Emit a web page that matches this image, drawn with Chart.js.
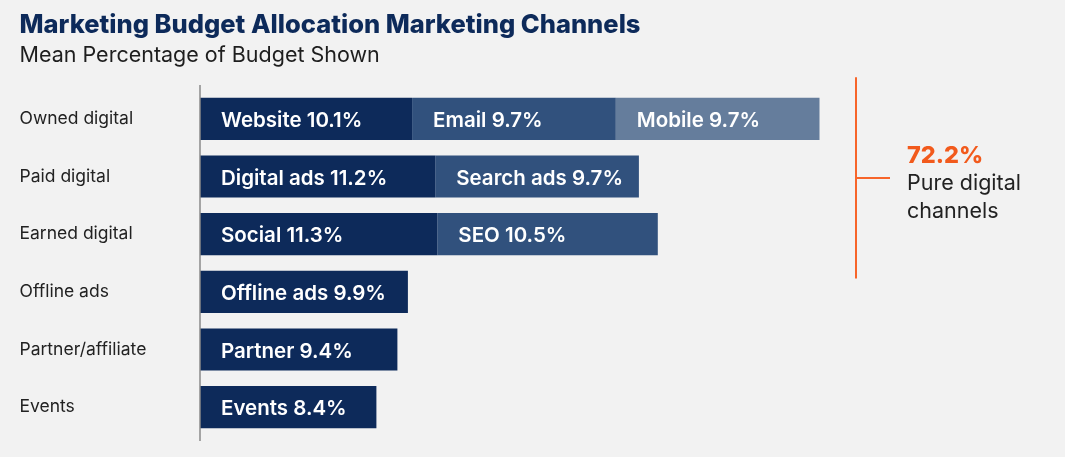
<!DOCTYPE html>
<html>
<head>
<meta charset="utf-8">
<script src="https://cdn.jsdelivr.net/npm/chart.js@4"></script>
<style>
  html, body { margin: 0; padding: 0; background: #f2f2f2; }
  #wrap { width: 1065px; height: 457px; }
</style>
</head>
<body>
<div id="wrap"><canvas id="budgetChart"></canvas></div>
<script>
// channel groups on the y axis
const categories = ['Owned digital', 'Paid digital', 'Earned digital', 'Offline ads', 'Partner/affiliate', 'Events'];

// first, second and third segment of each bar
const firstNames = ['Website', 'Digital ads', 'Social', 'Offline ads', 'Partner', 'Events'];
const firstValues = [10.1, 11.2, 11.3, 9.9, 9.4, 8.4];
const secondNames = ['Email', 'Search ads', 'SEO', null, null, null];
const secondValues = [9.7, 9.7, 10.5, null, null, null];
const thirdNames = ['Mobile', null, null, null, null, null];
const thirdValues = [9.7, null, null, null, null, null];

// rows counted as "pure digital"
const digitalRows = 3;

const navy = '#0d2a5a';   // dark
const steel = '#31517d';  // mid
const slate = '#657d9c';  // light
const orange = '#f7652a';

const segNames = [firstNames, secondNames, thirdNames];

// total of the digital rows -> 72.2
let digitalTotal = 0;
for (let i = 0; i < digitalRows; i++) {
  digitalTotal += (firstValues[i] || 0) + (secondValues[i] || 0) + (thirdValues[i] || 0);
}

const font = 'Inter, "Noto Sans", sans-serif';

// white labels written inside each segment
const segmentLabels = {
  id: 'segmentLabels',
  afterDatasetsDraw(chart) {
    const ctx = chart.ctx;
    ctx.save();
    ctx.fillStyle = '#ffffff';
    ctx.font = '600 20.5px ' + font;
    ctx.textBaseline = 'middle';
    ctx.textAlign = 'left';
    chart.data.datasets.forEach((ds, d) => {
      const meta = chart.getDatasetMeta(d);
      meta.data.forEach((bar, i) => {
        if (ds.data[i] == null) return;
        const p = bar.getProps(['x', 'y', 'base'], true);
        ctx.fillText(segNames[d][i] + ' ' + ds.data[i].toFixed(1) + '%', p.base + 21, p.y + 2);
      });
    });
    ctx.restore();
  }
};

// axis line on the left + orange bracket on the right
const extras = {
  id: 'extras',
  afterDraw(chart) {
    const ctx = chart.ctx;
    const area = chart.chartArea;
    const y = chart.scales.y;
    ctx.save();

    // vertical axis line
    ctx.strokeStyle = '#8a8a8a';
    ctx.lineWidth = 1.5;
    ctx.beginPath();
    ctx.moveTo(area.left, area.top - 5);
    ctx.lineTo(area.left, area.bottom + 5);
    ctx.stroke();

    // bracket over the digital rows
    const step = y.getPixelForValue(1) - y.getPixelForValue(0);
    const top = y.getPixelForValue(0) - step * 0.72;
    const bottom = y.getPixelForValue(digitalRows - 1) + step * 0.77;
    const mid = (top + bottom) / 2;
    const bx = area.right + 26;
    ctx.strokeStyle = orange;
    ctx.lineWidth = 2;
    ctx.beginPath();
    ctx.moveTo(bx, top);
    ctx.lineTo(bx, bottom);
    ctx.moveTo(bx, mid);
    ctx.lineTo(bx + 34, mid);
    ctx.stroke();

    ctx.textAlign = 'left';
    ctx.textBaseline = 'middle';
    ctx.fillStyle = '#f25a1c';
    ctx.font = '800 23.5px ' + font;
    ctx.fillText(digitalTotal.toFixed(1) + '%', bx + 51, mid - 22);
    ctx.fillStyle = '#222222';
    ctx.font = '400 21.5px ' + font;
    ctx.fillText('Pure digital', bx + 51, mid + 6);
    ctx.fillText('channels', bx + 51, mid + 34);
    ctx.restore();
  }
};

const ctx = document.getElementById('budgetChart').getContext('2d');
new Chart(ctx, {
  type: 'bar',
  data: {
    labels: categories,
    datasets: [
      { label: 'First', data: firstValues, backgroundColor: navy },
      { label: 'Second', data: secondValues, backgroundColor: steel },
      { label: 'Third', data: thirdValues, backgroundColor: slate }
    ]
  },
  options: {
    indexAxis: 'y',
    responsive: true,
    maintainAspectRatio: false,
    animation: false,
    datasets: {
      bar: {
        categoryPercentage: 1,
        barPercentage: 0.73,
        borderWidth: 0
      }
    },
    layout: { padding: { left: 19.5, right: 235, top: 0, bottom: 21 } },
    scales: {
      x: {
        stacked: true,
        display: false,
        min: 0,
        max: 30
      },
      y: {
        stacked: true,
        grid: { display: false },
        border: { display: false },
        ticks: {
          crossAlign: 'far',
          color: '#222222',
          font: { family: font, size: 17.5 }
        },
        afterFit(axis) { axis.width = 180.5; }
      }
    },
    plugins: {
      legend: { display: false },
      tooltip: { enabled: false },
      title: {
        display: true,
        text: 'Marketing Budget Allocation Marketing Channels',
        align: 'start',
        color: navy,
        font: { family: font, size: 25.5, weight: '800' },
        padding: { top: 9.7, bottom: 2.8 }
      },
      subtitle: {
        display: true,
        text: 'Mean Percentage of Budget Shown',
        align: 'start',
        color: '#1e1e1e',
        font: { family: font, size: 21.5, weight: '400' },
        padding: { top: 0, bottom: 21.1 }
      }
    }
  },
  plugins: [segmentLabels, extras]
});
</script>
</body>
</html>
